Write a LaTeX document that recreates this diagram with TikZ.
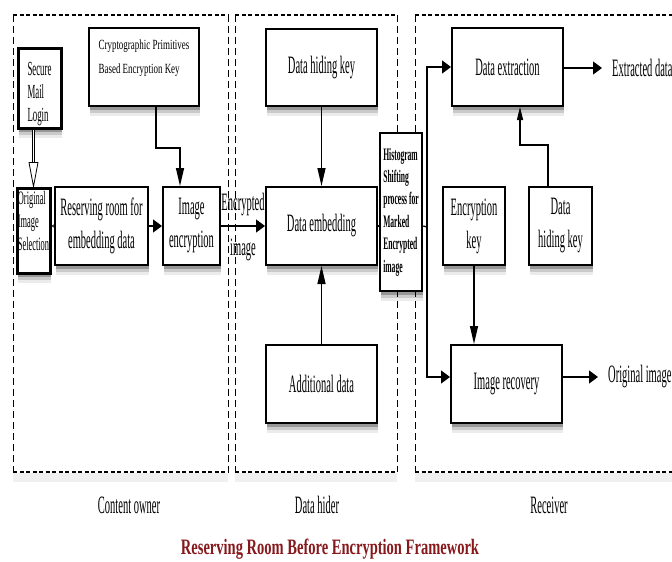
\documentclass[tikz,border=0pt]{standalone}
\usepackage{fontspec}
\setmainfont{Liberation Serif}
\newfontfamily\fmain{Liberation Serif}[FakeStretch=0.42]
\newfontfamily\fsmall{Liberation Serif}[FakeStretch=0.44]
\newfontfamily\fcpk{Liberation Serif}[FakeStretch=0.64]
\newfontfamily\fhist{Liberation Serif}[FakeStretch=0.43]
\newfontfamily\ftitle{Liberation Serif}[FakeStretch=0.66]
\usetikzlibrary{arrows.meta,shadows}
\definecolor{titlered}{RGB}{135,24,28}
\begin{document}
\begin{tikzpicture}[x=1pt,y=-1pt,
  box/.style={draw=black, line width=2pt, fill=white, inner sep=0pt, align=center,
    drop shadow={shadow xshift=0.5pt, shadow yshift=-10pt, opacity=0.08, fill=black},
    drop shadow={shadow xshift=0.5pt, shadow yshift=-7pt, opacity=0.14, fill=black},
    drop shadow={shadow xshift=0.5pt, shadow yshift=-4pt, opacity=0.25, fill=black},
    font=\fmain\fontsize{25}{33}\selectfont},
  txt/.style={inner sep=0pt, font=\fmain\fontsize{25}{33}\selectfont},
  conn/.style={line width=1.3pt},
  harr/.style={conn, -{Triangle[length=9pt,width=13pt]}},
  varr/.style={conn, -{Triangle[length=18pt,width=8pt]}},
  varrs/.style={conn, -{Triangle[length=13pt,width=6pt]}},
  dashh/.style={line width=2pt, dash pattern=on 4pt off 2.5pt},
  dashv/.style={line width=1pt, dash pattern=on 7pt off 4pt}
]
\useasboundingbox (0,0) rectangle (672,562);
% containers
\foreach \xa/\xb in {13/228, 235/397, 415/700}{
  \fill[black, opacity=0.06] (\xa,473) rectangle (\xb,482);
  \draw[dashh] (\xa,15) -- (\xb,15);
  \draw[dashh] (\xa,472) -- (\xb,472);
  \draw[dashv] (\xa,15) -- (\xa,472);
  \draw[dashv] (\xb,15) -- (\xb,472);
}
% content owner
\node[box, minimum width=43, minimum height=80, line width=3pt, align=left, text height=72pt,
  font=\fsmall\fontsize{20}{23}\selectfont] (sml) at (39.5,88) {Secure\\Mail\\Login};
\node[box, minimum width=110, minimum height=78, align=left, text depth=20pt,
  font=\fcpk\fontsize{14}{24}\selectfont] (cpk) at (144,67) {Cryptographic Primitives\\Based Encryption Key};
\node[box, minimum width=33, minimum height=85, line width=3pt, align=left, text depth=20pt,
  font=\fsmall\fontsize{19}{23}\selectfont] (ois) at (33.5,230.5) {Original\\Image\\Selection};
\node[box, minimum width=93, minimum height=78] (rr) at (101.5,226) {Reserving room for\\embedding data};
\node[box, minimum width=57, minimum height=78] (ie) at (191.5,226) {Image\\encryption};
% data hider
\node[box, minimum width=111, minimum height=77] (dhk) at (321.5,67.5) {Data hiding key};
\node[box, minimum width=111, minimum height=78] (de) at (321.5,226) {Data embedding};
\node[box, minimum width=111, minimum height=78] (ad) at (321.5,384) {Additional data};
\node[box, minimum width=42, minimum height=158, line width=2.5pt, align=left,
  font=\fhist\bfseries\fontsize{17.6}{22.4}\selectfont] (hist) at (401,212)
  {Histogram\\Shifting\\process for\\Marked\\Encrypted\\image};
% receiver
\node[box, minimum width=111, minimum height=78] (dx) at (507.5,67) {Data extraction};
\node[box, minimum width=62, minimum height=78] (ek) at (474,226) {Encryption\\key};
\node[box, minimum width=63, minimum height=78] (dhk2) at (560.5,226) {Data\\hiding key};
\node[box, minimum width=111, minimum height=78] (ir) at (506.5,384) {Image recovery};
\node[txt, anchor=west, inner xsep=10pt] (xd) at (602,68) {Extracted data};
\node[txt, anchor=west, inner xsep=10pt] (oi) at (598,377) {Original image};
% labels
\node[txt] (lco) at (129,505) {Content owner};
\node[txt] (ldh) at (317,505) {Data hider};
\node[txt] (lrc) at (549,505) {Receiver};
\node[inner sep=0pt, text=titlered, font=\ftitle\bfseries\fontsize{22}{26}\selectfont] (title) at (330,549)
  {Reserving Room Before Encryption Framework};
% connectors
\draw[line width=0.8pt, double=white, double distance=1.8pt]
  (sml.south -| ois.north) -- ([yshift=24pt]ois.north);
\draw[line width=0.8pt, fill=white] ([xshift=-4.5pt,yshift=24pt]ois.north) -- (ois.north)
  -- ([xshift=4.5pt,yshift=24pt]ois.north) -- cycle;
\draw[line width=0.8pt, -{Triangle[open,length=4pt,width=5pt]}] (rr.west) -- (ois.east |- rr.west);
\draw[harr] (rr) -- (ie);
\draw[harr] (ie) -- node[txt, above=9pt] (lenc) {Encrypted} node[txt, below=12pt] (limg) {image} (de);
\draw[varr] ([xshift=12pt]cpk.south) -- ++(0,41) -| ([xshift=-11.5pt]ie.north);
\draw[varr] (dhk) -- (de);
\draw[varr] (ad) -- (de);
\coordinate (j) at (427,227);
\draw[conn] (de.east) -- (hist.west |- de.east);
\draw[conn] (hist.east |- de.east) -- (j);
\draw[harr] (j) |- (dx.west);
\draw[harr] (j) |- ([yshift=7pt]ir.west);
\draw[harr] (dx.east |- xd.west) -- (xd.west);
\draw[harr] ([yshift=7pt]ir.east) -- (oi.west);
\draw[varrs] ([xshift=-12.5pt]dhk2.north) -- ++(0,-41) -| ([xshift=12.5pt]dx.south);
\draw[varr] (ek.south) -- (ek.south |- ir.north);
\end{tikzpicture}
\end{document}
